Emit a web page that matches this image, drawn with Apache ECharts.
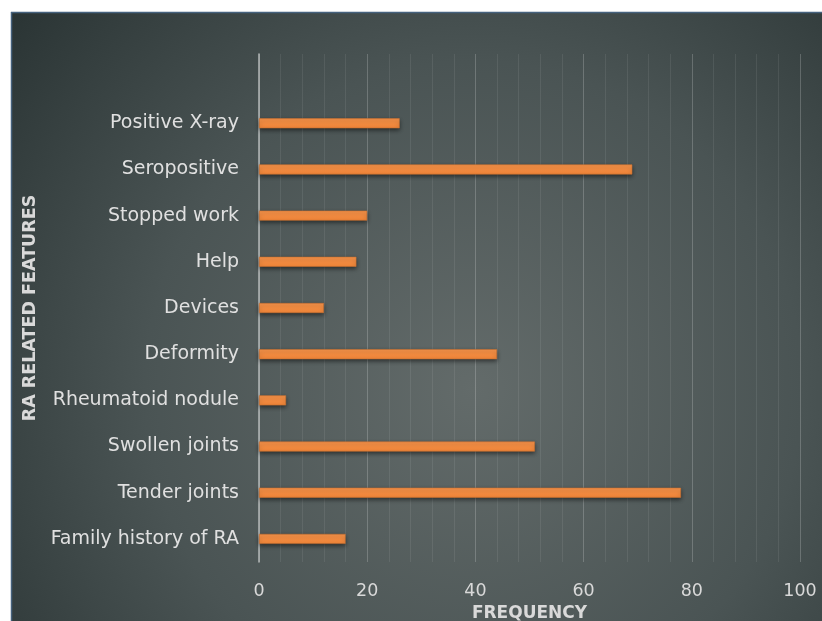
<!DOCTYPE html>
<html><head><meta charset="utf-8">
<script src="https://cdn.jsdelivr.net/npm/echarts@6/dist/echarts.min.js"></script>
<style>html,body{margin:0;padding:0;background:#fff}#c{width:822px;height:621px}</style>
</head><body><div id="c"></div>
<script>
// bottom-to-top order (category axis); last slot is an empty row in the source chart
const categories = ['Family history of RA','Tender joints','Swollen joints','Rheumatoid nodule','Deformity','Devices','Help','Stopped work','Seropositive','Positive X-ray',''];
const frequencies = [16,78,51,5,44,12,18,20,69,26,null];
const xAxisMin = 0, xAxisMax = 100, xAxisStep = 20;
const xAxisTitle = 'FREQUENCY';
const yAxisTitle = 'RA RELATED FEATURES';

const chart = echarts.init(document.getElementById('c'), null, {renderer:'canvas'});
const font = '"DejaVu Sans", "Liberation Sans", sans-serif';
chart.setOption({
  backgroundColor: '#ffffff',
  animation: false,
  graphic: [
    {type:'rect', z:-10, silent:true, shape:{x:11, y:12, width:811, height:609},
     style:{fill:new echarts.graphic.RadialGradient(0.57, 0.62, 0.98, [
       {offset:0, color:'#636b6a'},{offset:0.55, color:'#4a5454'},{offset:1, color:'#2a3434'}])}},
    {type:'line', z:-9, silent:true, shape:{x1:11, y1:12.5, x2:822, y2:12.5}, style:{stroke:'#46627e', lineWidth:1.5}},
    {type:'line', z:-9, silent:true, shape:{x1:11.5, y1:12, x2:11.5, y2:621}, style:{stroke:'#46627e', lineWidth:1.5}}
  ],
  grid: {left:259, right:22, top:54, bottom:59, containLabel:false, outerBoundsMode:'none'},
  xAxis: {
    type:'value', min:xAxisMin, max:xAxisMax, interval:xAxisStep,
    name:xAxisTitle, nameLocation:'middle', nameGap:33,
    nameTextStyle:{color:'#d9d9d9', fontSize:17, fontWeight:'bold', fontFamily:font},
    axisLine:{show:false}, axisTick:{show:false},
    axisLabel:{color:'#d9d9d9', fontSize:17.5, margin:20, fontFamily:font},
    splitLine:{show:true, lineStyle:{color:'rgba(255,255,255,0.2)', width:1}},
    minorTick:{show:false, splitNumber:5},
    minorSplitLine:{show:true, lineStyle:{color:'rgba(255,255,255,0.08)', width:1}}
  },
  yAxis: {
    type:'category', data:categories,
    name:yAxisTitle, nameLocation:'middle', nameGap:215, nameRotate:90,
    nameTextStyle:{color:'#d9d9d9', fontSize:17.5, fontWeight:'bold', fontFamily:font},
    axisLine:{show:true, lineStyle:{color:'#b4b8b8', width:1.5}},
    axisTick:{show:false},
    axisLabel:{color:'#e0e0e0', fontSize:19, margin:20, fontFamily:font},
    splitLine:{show:false}
  },
  series: [{
    type:'bar', data:frequencies, barWidth:10,
    itemStyle:{
      color:new echarts.graphic.LinearGradient(0,0,0,1,[{offset:0,color:'#f7934a'},{offset:1,color:'#f08538'}]),
      borderColor:'#c97030', borderWidth:0.6,
      shadowColor:'rgba(0,0,0,0.5)', shadowBlur:4, shadowOffsetY:2
    }
  }]
});
</script></body></html>
